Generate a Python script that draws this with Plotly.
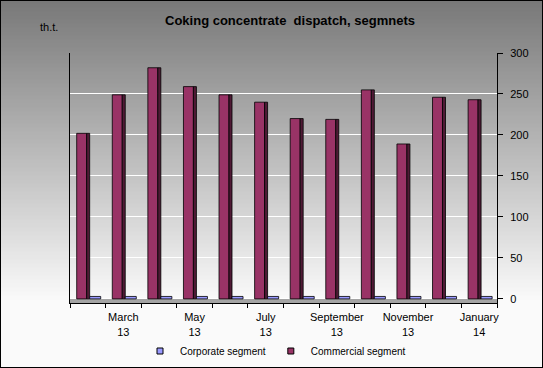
import plotly.graph_objects as go

# ---- data ----
months = ["February 13", "March 13", "April 13", "May 13", "June 13", "July 13",
          "August 13", "September 13", "October 13", "November 13", "December 13", "January 14"]
tick_labels = ["", "March<br>13", "", "May<br>13", "", "July<br>13",
               "", "September<br>13", "", "November<br>13", "", "January<br>14"]
commercial = [202, 249, 282, 259, 249, 240, 220, 219, 255, 189, 246, 243]
corporate = [3, 3, 3, 3, 3, 3, 3, 3, 3, 3, 3, 3]
y_ticks = [0, 50, 100, 150, 200, 250, 300]

W, H = 543, 368
L, R, T, B = 70, 46, 53, 65
PW, PH = W - L - R, H - T - B
FONT = "Liberation Sans, Arial, sans-serif"

MAG = "#993366"
MAG_SIDE = "#4f1a35"
BLUE = "#9999ff"

fig = go.Figure()

# commercial bar front face
fig.add_trace(go.Bar(x=months, y=commercial, offset=-0.312, width=0.28,
                     marker=dict(color=MAG, line=dict(color="black", width=0.8)),
                     showlegend=False))
# commercial bar side face (3D look)
fig.add_trace(go.Bar(x=months, y=commercial, offset=-0.032, width=0.085,
                     marker=dict(color=MAG_SIDE, line=dict(color="black", width=0.8)),
                     showlegend=False))
# corporate segment (near zero)
fig.add_trace(go.Bar(x=months, y=corporate, offset=0.053, width=0.31,
                     marker=dict(color=BLUE, line=dict(color="black", width=0.8)),
                     showlegend=False))

# legend entries
fig.add_trace(go.Scatter(x=[None], y=[None], mode="markers", name="Corporate segment",
                         marker=dict(symbol="square", size=6, color=BLUE,
                                     line=dict(color="black", width=1))))
fig.add_trace(go.Scatter(x=[None], y=[None], mode="markers", name="Commercial segment",
                         marker=dict(symbol="square", size=6, color=MAG,
                                     line=dict(color="black", width=1))))

# background gradient bands
shapes = []
x0p, x1p = -L / PW, 1 + R / PW
step = 4
for py in range(0, H, step):
    g = int(min(250, 120 + 130 * (py + step / 2) / 300))
    col = f"rgb({g},{g},{g})"
    y_top = (H - B - py) / PH
    y_bot = (H - B - py - step) / PH
    shapes.append(dict(type="rect", xref="paper", yref="paper", x0=x0p, x1=x1p,
                       y0=y_bot, y1=y_top + 0.002, fillcolor=col, line=dict(width=0),
                       layer="below"))
# floor
shapes.append(dict(type="rect", xref="paper", yref="y", x0=0, x1=1, y0=-5, y1=0,
                   fillcolor="#a4a4a4", line=dict(width=0), layer="below"))
# outer border
shapes.append(dict(type="rect", xref="paper", yref="paper", x0=x0p, x1=x1p,
                   y0=-B / PH, y1=1 + T / PH, line=dict(color="black", width=2),
                   fillcolor="rgba(0,0,0,0)", layer="above"))

fig.update_layout(
    width=W, height=H,
    margin=dict(l=L, r=R, t=T, b=B, pad=0, autoexpand=False),
    paper_bgcolor="#c0c0c0",
    plot_bgcolor="rgba(0,0,0,0)",
    barmode="overlay",
    font=dict(family=FONT, size=11, color="black"),
    title=dict(text="Coking concentrate\u00a0 dispatch, segmnets",
               x=290 / W, xanchor="center", xref="container",
               y=1 - 20 / H, yanchor="middle", yref="container",
               font=dict(family=FONT, size=13, color="black", weight="bold")),
    shapes=shapes,
    showlegend=True,
    legend=dict(orientation="h", x=0.5 - 8 / PW, xanchor="center",
                y=(H - B - 351) / PH, yanchor="middle",
                font=dict(family=FONT, size=10, color="black"),
                bgcolor="rgba(0,0,0,0)", itemwidth=30),
    annotations=[dict(text="th.t.", xref="paper", yref="paper",
                      x=(37.7 - L) / PW, xanchor="left",
                      y=(H - B - 27.3) / PH, yanchor="middle",
                      showarrow=False, font=dict(family=FONT, size=11, color="black"))],
)

fig.update_xaxes(type="category", categoryorder="array", categoryarray=months,
                 tickmode="array", tickvals=months, ticktext=tick_labels,
                 tickson="boundaries", ticks="outside", ticklen=4, tickcolor="black",
                 tickangle=0, ticklabelstandoff=4,
                 showline=True, linecolor="black", linewidth=1,
                 showgrid=False, zeroline=False,
                 tickfont=dict(family=FONT, size=11, color="black"),
                 range=[-0.5, len(months) - 0.5])
fig.update_yaxes(side="right", range=[-5, 300], tickmode="array", tickvals=y_ticks,
                 ticks="outside", ticklen=5, tickcolor="black", ticklabelstandoff=5,
                 showline=True, linecolor="black", linewidth=1, mirror=True,
                 showgrid=True, gridcolor="white", gridwidth=1.2, zeroline=False,
                 tickfont=dict(family=FONT, size=11, color="black"))

fig.write_html("out.html", config={"displayModeBar": False},
               post_script="document.body.style.margin='0';")
